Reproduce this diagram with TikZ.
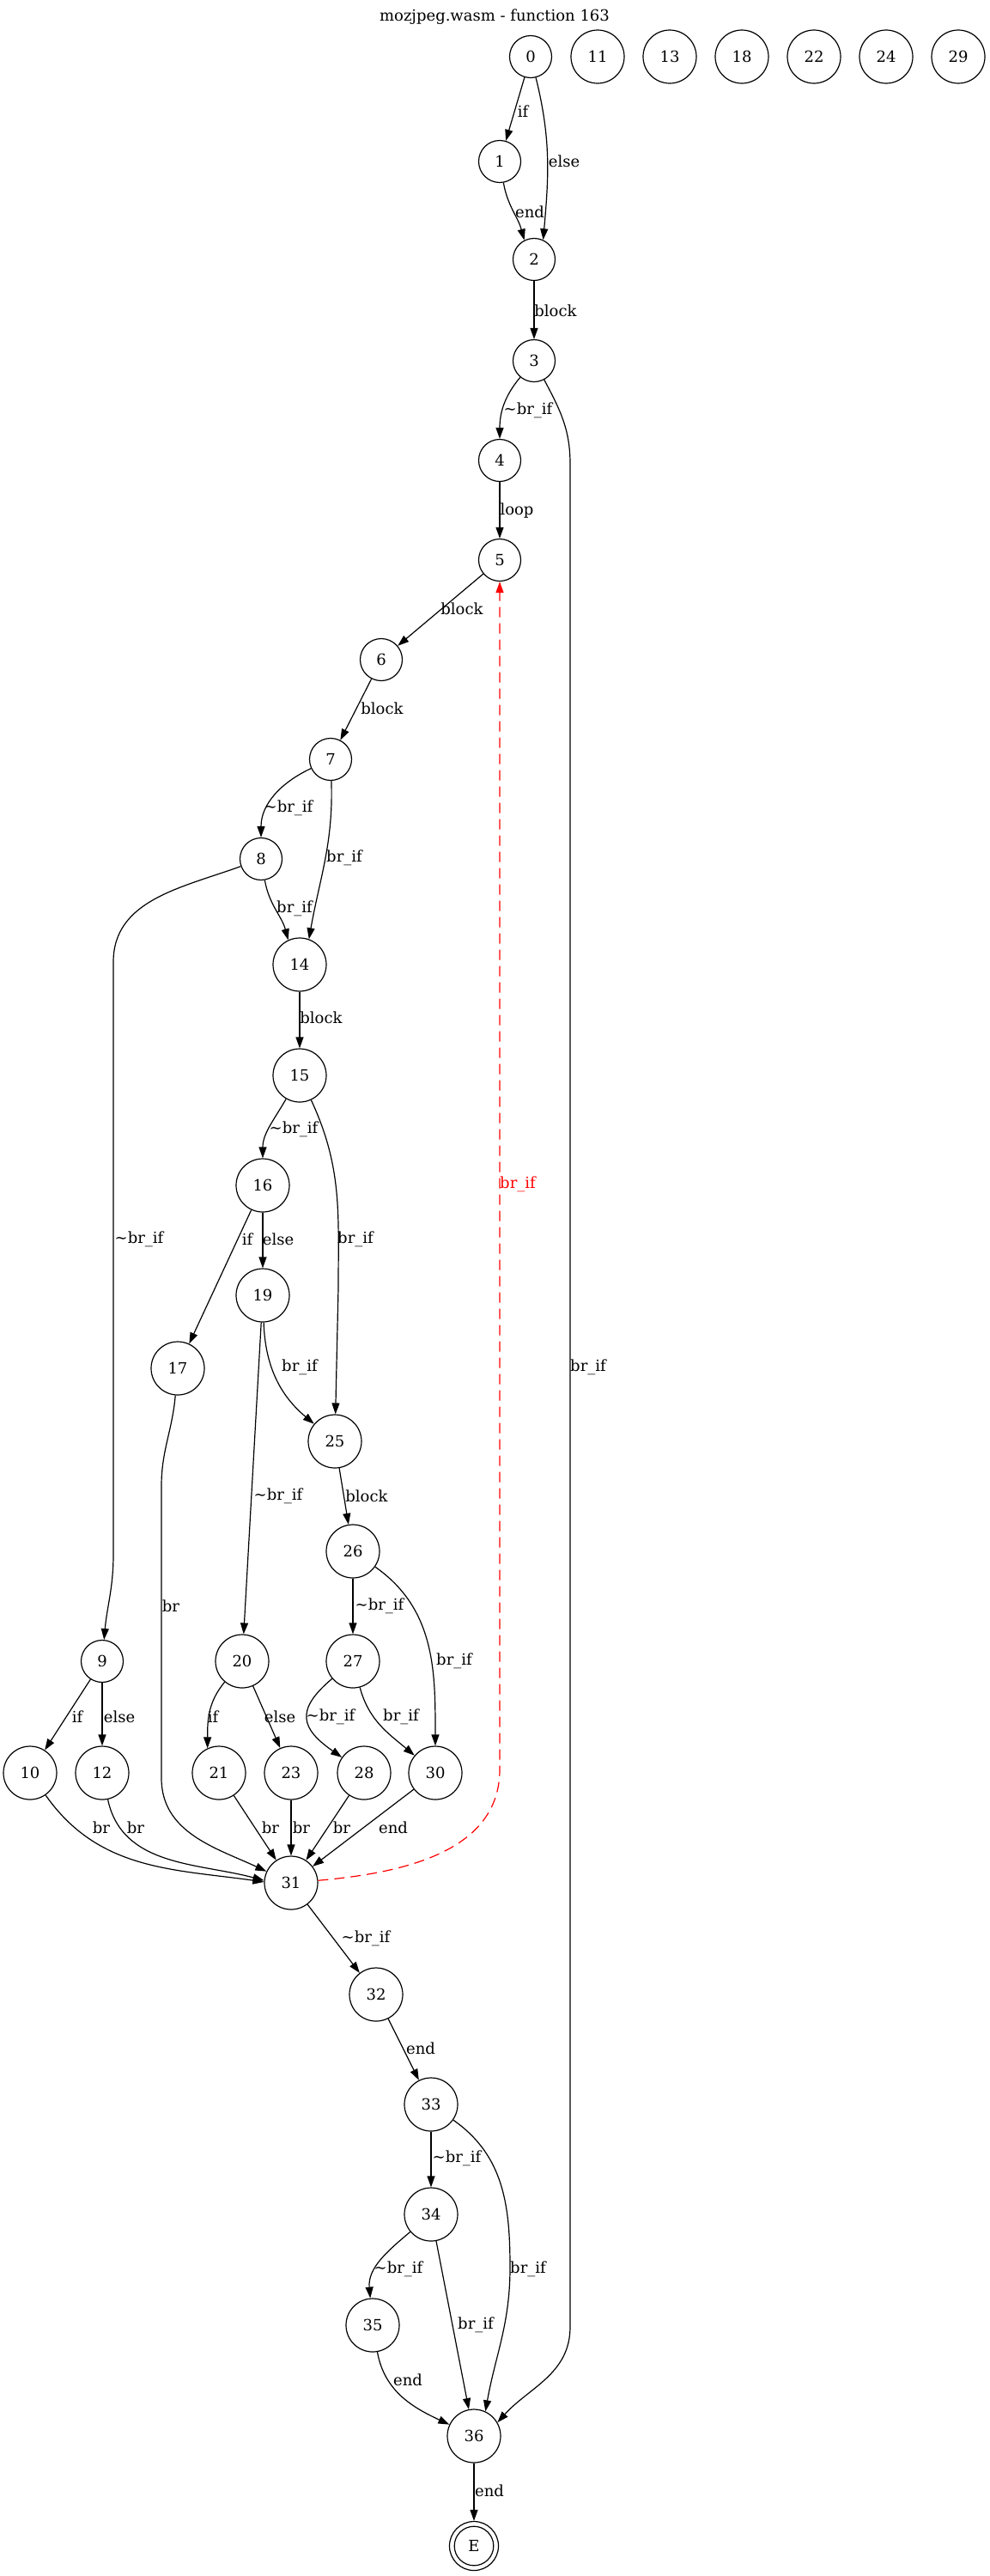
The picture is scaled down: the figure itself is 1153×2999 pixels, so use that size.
\documentclass[tikz,border=0pt]{standalone}
\usepackage{fontspec}
\setmainfont{DejaVu Serif}
\usetikzlibrary{arrows.meta}

\begin{document}
\begin{tikzpicture}[x=1pt, y=1pt, >={Triangle[length=13pt,width=9pt]},
        every node/.style={font=\fontsize{18}{21}\selectfont},
        blk/.style={circle, draw, line width=1.2pt, minimum size=49pt, inner sep=0pt},
        blkw/.style={blk, minimum size=62pt},
        lbl/.style={inner sep=0pt},
        flow/.style={->, line width=1.2pt},
        back/.style={flow, red, dash pattern=on 12pt off 7pt}]
            \useasboundingbox (0,0) rectangle (1153,-2999);
            \node (title) at (576,-20) {mozjpeg.wasm - function 163};
            % blocks
            \node[blk] (n0) at (618,-66) {0};
            \foreach \k [count=\i from 0] in {11,13,18,22,24,29}
                \node[blkw] (n\k) at (696+84*\i,-66) {\k};
            \node[blk] (n1) at (582,-188) {1};
            \node[blk] (n2) at (622,-302) {2};
            \node[blk] (n3) at (622,-420) {3};
            \node[blk] (n4) at (582,-536) {4};
            \node[blk] (n5) at (582,-652) {5};
            \node[blk] (n6) at (444,-768) {6};
            \node[blk] (n7) at (385,-884) {7};
            \node[blk] (n8) at (304,-1000) {8};
            \node[blkw] (n14) at (349,-1123) {14};
            \node[blkw] (n15) at (349,-1252) {15};
            \node[blkw] (n16) at (306,-1380) {16};
            \node[blkw] (n19) at (306,-1508) {19};
            \node[blkw] (n17) at (207,-1593) {17};
            \node[blkw] (n25) at (390,-1678) {25};
            \node[blkw] (n26) at (411,-1806) {26};
            \node[blk] (n9) at (119,-1934) {9};
            \node[blkw] (n20) at (282,-1934) {20};
            \node[blkw] (n27) at (411,-1934) {27};
            \foreach \k/\x in {10/35,12/119,21/255,23/339,28/424,30/507}
                \node[blkw] (n\k) at (\x,-2064) {\k};
            \node[blkw] (n31) at (339,-2192) {31};
            \node[blkw] (n32) at (438,-2322) {32};
            \node[blkw] (n33) at (502,-2450) {33};
            \node[blkw] (n34) at (502,-2578) {34};
            \node[blkw] (n35) at (434,-2707) {35};
            \node[blkw] (n36) at (552,-2836) {36};
            \node[circle, draw, line width=1.2pt, minimum size=57pt, inner sep=0pt] (nE) at (552,-2964) {E};
            \draw[line width=1.2pt] (nE.center) circle (22.8);
            % edges
            \draw[flow] (n0) -- (n1);
            \draw[flow] (n0) to[out=-76,in=85] (n2.65);
            \draw[flow] (n1) to[out=-80,in=105] (n2.117);
            \draw[flow] (n2) -- (n3);
            \draw[flow] (n3) to[out=-130,in=90] (n4);
            \draw[flow] (n3) to[out=-62,in=90] (664,-540) -- (664,-2709) to[out=-90,in=48] (n36.30);
            \draw[flow] (n4) -- (n5);
            \draw[flow] (n5) -- (n6);
            \draw[flow] (n6) -- (n7);
            \draw[flow] (n7) to[out=-155,in=90] (n8);
            \draw[flow] (n7) to[out=-88,in=80] (n14.70);
            \draw[flow] (n8) to[out=-80,in=105] (n14.115);
            \draw[flow] (n8) to[out=-160,in=90] (132,-1120) -- (132,-1810) to[out=-90,in=85] (n9);
            \draw[flow] (n14) -- (n15);
            \draw[flow] (n15) to[out=-120,in=90] (n16);
            \draw[flow] (n15) to[out=-65,in=90] (394,-1500) -- (n25);
            \draw[flow] (n16) -- (n17);
            \draw[flow] (n16) -- (n19);
            \draw[flow] (n19) to[out=-88,in=140] (n25);
            \draw[flow] (n19) -- (n20);
            \draw[flow] (n17) to[out=-95,in=90] (188,-1730) -- (188,-2070) to[out=-90,in=155] (n31);
            \draw[flow] (n25) -- (n26);
            \draw[flow] (n26) -- (n27);
            \draw[flow] (n26) to[out=-35,in=90] (n30);
            \draw[flow] (n9) -- (n10);
            \draw[flow] (n9) -- (n12);
            \draw[flow] (n20) to[out=-130,in=90] (n21.115);
            \draw[flow] (n20) -- (n23);
            \draw[flow] (n27) to[out=-140,in=145,looseness=1.6] (n28);
            \draw[flow] (n27) to[out=-75,in=140] (n30);
            \draw[flow] (n10) to[out=-55,in=172] (n31.178);
            \draw[flow] (n12) to[out=-78,in=165] (n31.175);
            \draw[flow] (n21) -- (n31);
            \draw[flow] (n23) -- (n31);
            \draw[flow] (n28) -- (n31);
            \draw[flow] (n30) -- (n31);
            \draw[back] (n31) to[out=5,in=-90] (582,-2060) -- (n5);
            \draw[flow] (n31) -- (n32);
            \draw[flow] (n32) -- (n33);
            \draw[flow] (n33) -- (n34);
            \draw[flow] (n33) to[out=-35,in=90] (594,-2640) to[out=-90,in=80] (n36.65);
            \draw[flow] (n34) to[out=-140,in=95] (n35);
            \draw[flow] (n34) -- (n36);
            \draw[flow] (n35) to[out=-80,in=155] (n36);
            \draw[flow] (n36) -- (nE);
            % edge labels
            \foreach \nm/\x/\y/\t in {0-1/609/130/if, 0-2/657/188/else, 1-2/617/247/end,
                    2-3/647/362/block, 3-4/615/478/\textasciitilde br\_if, 3-36/685/1592/br\_if,
                    4-5/602/595/loop, 5-6/538/709/block, 6-7/445/825/block,
                    7-8/336/941/\textasciitilde br\_if, 7-14/401/999/br\_if, 8-14/343/1058/br\_if,
                    8-9/162/1443/\textasciitilde br\_if, 14-15/374/1185/block,
                    15-16/342/1315/\textasciitilde br\_if, 15-25/414/1443/br\_if,
                    16-17/288/1443/if, 16-19/324/1443/else, 19-25/349/1592/br\_if,
                    19-20/324/1742/\textasciitilde br\_if, 17-31/199/1870/br,
                    25-26/427/1742/block, 26-27/442/1870/\textasciitilde br\_if,
                    26-30/529/1934/br\_if, 9-10/90/1999/if, 9-12/139/1999/else,
                    20-21/248/1999/if, 20-23/326/1999/else, 27-28/385/1999/\textasciitilde br\_if,
                    27-30/467/1999/br\_if, 10-31/118/2128/br, 12-31/158/2128/br,
                    21-31/315/2128/br, 23-31/351/2128/br, 28-31/398/2128/br,
                    30-31/458/2128/end, 31-32/426/2257/\textasciitilde br\_if,
                    32-33/490/2385/end, 33-34/532/2513/\textasciitilde br\_if,
                    33-36/615/2642/br\_if, 34-35/464/2642/\textasciitilde br\_if,
                    34-36/554/2707/br\_if, 35-36/475/2771/end, 36-E/570/2900/end}
                \node[lbl] (l\nm) at (\x,-\y) {\t};
            \node[lbl, red] (l31-5) at (603,-1379) {br\_if};
        \end{tikzpicture}
\end{document}
